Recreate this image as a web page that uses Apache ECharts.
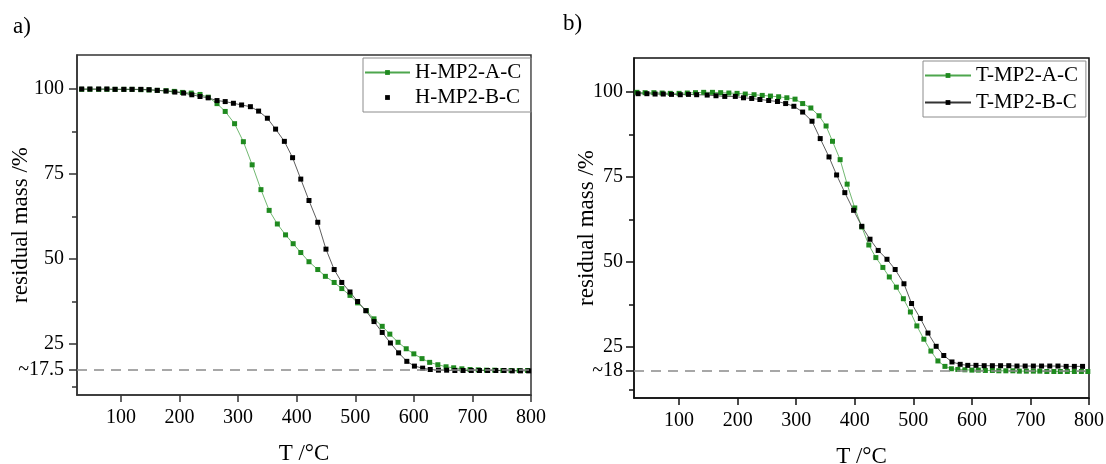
<!DOCTYPE html>
<html>
<head>
<meta charset="utf-8">
<script src="https://cdn.jsdelivr.net/npm/echarts@6/dist/echarts.min.js"></script>
<style>
html,body{margin:0;padding:0;background:#fff;}
#chart{width:1106px;height:464px;}
</style>
</head>
<body>
<div id="chart"></div>
<script>
// ---- Panel a) H-MP2 ----
const hA_T = [33,47,62,76,90,105,119,134,148,162,177,191,205,220,235,249,264,278,294,309,324,339,353,367,381,394,407,421,436,449,464,477,491,504,519,532,546,559,573,587,600,614,627,641,655,668,682,696,710,724,738,752,766,780,794];
const hA_M = [99.9,99.9,99.9,99.9,99.9,99.9,99.9,99.8,99.7,99.6,99.5,99.3,99.0,98.8,98.4,97.6,95.7,93.4,89.8,84.5,77.7,70.4,64.3,60.3,57.1,54.5,51.9,49.2,46.9,44.9,43.1,41.3,39.3,37.1,34.8,32.4,30.2,27.9,25.5,23.6,22.1,20.7,19.6,18.9,18.3,18.0,17.7,17.5,17.4,17.3,17.3,17.2,17.2,17.2,17.2];
const hB_T = [33,47,62,76,90,105,119,134,148,162,177,192,207,221,235,249,264,278,292,306,321,335,350,364,379,393,407,421,436,450,464,477,491,504,518,532,546,560,574,588,601,615,628,642,656,670,684,698,712,726,740,754,768,782,796];
const hB_M = [100,100,100,100,99.9,99.9,99.9,99.9,99.8,99.6,99.4,99.1,98.8,98.3,97.8,97.4,96.6,96.3,95.8,95.3,94.8,93.5,91.4,88.2,84.6,79.8,73.5,67.2,60.8,52.9,46.9,43.1,40.3,37.5,34.8,31.6,28.4,25.3,22.4,19.9,18.5,17.9,17.5,17.3,17.3,17.2,17.2,17.2,17.2,17.2,17.2,17.2,17.1,17.1,17.1];

// ---- Panel b) T-MP2 ----
const tA_T = [28,42,57,71,85,100,114,128,142,157,171,185,199,213,228,242,256,270,284,298,311,325,339,351,362,375,387,400,412,424,436,448,459,471,483,495,506,518,530,542,554,565,576,588,600,611,623,635,646,658,670,681,693,705,716,728,740,751,763,775,787,798];
const tA_M = [99.9,99.8,99.8,99.7,99.6,99.6,99.7,99.8,99.9,99.9,99.8,99.7,99.6,99.4,99.2,99.0,98.8,98.6,98.3,97.9,96.6,95.3,93.0,90.0,85.5,80.1,72.9,65.9,60.3,55.0,51.3,48.4,45.6,42.6,39.2,35.3,31.2,27.3,23.8,20.9,19.3,18.6,18.4,18.3,18.2,18.2,18.1,18.1,18.0,18.0,18.0,17.9,17.9,17.9,17.9,17.8,17.8,17.8,17.8,17.8,17.8,17.8];
const tB_T = [30,45,59,73,87,102,116,130,148,163,178,196,210,224,238,253,268,282,296,311,327,341,356,369,383,398,412,426,440,455,469,484,497,512,525,539,552,566,580,593,607,621,635,649,663,677,691,705,719,733,747,761,775,789];
const tB_M = [99.5,99.5,99.4,99.4,99.3,99.2,99.3,99.2,99.1,98.9,98.7,98.7,98.3,98.1,97.8,97.5,97.2,96.6,95.8,94.1,91.4,86.3,80.9,75.6,70.4,65.2,60.5,56.7,53.4,50.8,47.8,43.6,37.8,33.4,29.1,25.2,22.5,20.6,19.9,19.6,19.6,19.5,19.5,19.5,19.5,19.4,19.4,19.4,19.4,19.4,19.4,19.3,19.3,19.3];

// ---- ticks / labels ----
const xTicks = [100,200,300,400,500,600,700,800];
const yTicksA = [17.5,25,50,75,100];
const yTicksB = [18,25,50,75,100];
const yMinor = [12.5,37.5,62.5,87.5];
const residualA = 17.5;
const residualB = 18;
const labelA = '~17.5';
const labelB = '~18';

const FONT = 'Liberation Serif';
const GREEN = '#1f8a1f';
const GREEN_LINE = '#4da64d';
const zip = (xs, ys) => xs.map((x, i) => [x, ys[i]]);

function xAxisCfg(grid, min, color) {
  return {
    gridIndex: grid, type: 'value', min: min, max: 800,
    axisLine: {show: true, onZero: false, lineStyle: {color: color, width: 1.5}},
    axisTick: {show: true, customValues: xTicks, length: 7, lineStyle: {color: color, width: 1.5}},
    axisLabel: {customValues: xTicks, margin: 13, color: '#000', fontSize: 20, fontFamily: FONT},
    splitLine: {show: false},
    name: 'T /°C', nameLocation: 'middle', nameGap: 47, nameMoveOverlap: false,
    nameTextStyle: {color: '#000', fontSize: 23, fontFamily: FONT}
  };
}
function yAxisCfg(grid, ticks, resVal, resLabel, color, gap, margin) {
  return {
    gridIndex: grid, type: 'value', min: 10, max: 110, position: 'left',
    axisLine: {show: true, onZero: false, lineStyle: {color: color, width: 1.5}},
    axisTick: {show: true, customValues: ticks, length: 8, lineStyle: {color: color, width: 1.5}},
    axisLabel: {customValues: ticks, margin: margin, color: '#000', fontSize: 20, fontFamily: FONT,
      formatter: v => (v === resVal ? resLabel : String(v))},
    splitLine: {show: false},
    name: 'residual mass /%', nameLocation: 'middle', nameGap: gap, nameMoveOverlap: false,
    nameTextStyle: {color: '#000', fontSize: 23, fontFamily: FONT}
  };
}
function yMinorCfg(grid, color) {
  return {
    gridIndex: grid, type: 'value', min: 10, max: 110, position: 'left',
    axisLine: {show: false},
    axisTick: {show: true, customValues: yMinor, length: 5, lineStyle: {color: color, width: 1.5}},
    axisLabel: {show: false}, splitLine: {show: false}
  };
}
function dashed(val) {
  return {silent: true, symbol: 'none', label: {show: false},
    lineStyle: {type: [10, 7], color: '#8a8a8a', width: 1.5},
    data: [{yAxis: val}]};
}
function lineSeries(name, xi, yi, data, color, lineColor, mark) {
  const s = {
    type: 'line', name: name, xAxisIndex: xi, yAxisIndex: yi, data: data,
    symbol: 'rect', symbolSize: 5, showAllSymbol: true,
    itemStyle: {color: color}, lineStyle: {color: lineColor, width: 0.8},
    emphasis: {disabled: true}, animation: false
  };
  if (mark) s.markLine = mark;
  return s;
}

const chart = echarts.init(document.getElementById('chart'));
chart.setOption({
  backgroundColor: '#fff',
  animation: false,
  title: [
    {text: 'a)', left: 8, top: 10, padding: 5, textStyle: {fontFamily: FONT, fontSize: 23, fontWeight: 'normal', color: '#000'}},
    {text: 'b)', left: 558, top: 7, padding: 5, textStyle: {fontFamily: FONT, fontSize: 23, fontWeight: 'normal', color: '#000'}}
  ],
  grid: [
    {left: 77, top: 55, width: 454, height: 340, show: true, borderColor: '#333', borderWidth: 1.5, backgroundColor: 'transparent', outerBoundsMode: 'none', containLabel: false},
    {left: 634, top: 58, width: 455, height: 340, show: true, borderColor: '#111', borderWidth: 1.5, backgroundColor: 'transparent', outerBoundsMode: 'none', containLabel: false}
  ],
  xAxis: [xAxisCfg(0, 25, '#333'), xAxisCfg(1, 23, '#111')],
  yAxis: [
    yAxisCfg(0, yTicksA, residualA, labelA, '#333', 45, 13),
    yMinorCfg(0, '#333'),
    yAxisCfg(1, yTicksB, residualB, labelB, '#111', 36, 11),
    yMinorCfg(1, '#111')
  ],
  legend: [
    {
      data: ['H-MP2-A-C', {name: 'H-MP2-B-C', lineStyle: {opacity: 0}}],
      orient: 'vertical', left: 363, top: 58, itemWidth: 45, itemHeight: 6, itemGap: 4,
      padding: [4, 10, 4, 1], borderColor: '#8c8c8c', borderWidth: 1,
      textStyle: {fontFamily: FONT, fontSize: 21, color: '#000'}, selectedMode: false
    },
    {
      data: ['T-MP2-A-C', 'T-MP2-B-C'],
      orient: 'vertical', left: 923, top: 61, itemWidth: 46, itemHeight: 6, itemGap: 6,
      padding: [4, 8, 4, 1], borderColor: '#8c8c8c', borderWidth: 1,
      textStyle: {fontFamily: FONT, fontSize: 21, color: '#000'}, selectedMode: false
    }
  ],
  series: [
    lineSeries('H-MP2-A-C', 0, 0, zip(hA_T, hA_M), GREEN, GREEN_LINE, dashed(residualA)),
    lineSeries('H-MP2-B-C', 0, 0, zip(hB_T, hB_M), '#000', '#333', null),
    lineSeries('T-MP2-A-C', 1, 2, zip(tA_T, tA_M), GREEN, GREEN_LINE, dashed(residualB)),
    lineSeries('T-MP2-B-C', 1, 2, zip(tB_T, tB_M), '#000', '#333', null)
  ]
});
</script>
</body>
</html>
